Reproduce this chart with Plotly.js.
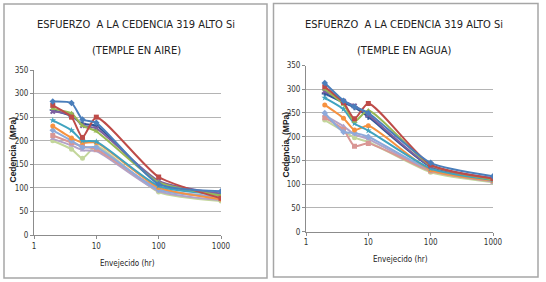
<!DOCTYPE html>
<html>
<head>
<meta charset="utf-8">
<script src="https://cdn.plot.ly/plotly-3.0.1.min.js"></script>
<style>
  html, body { margin: 0; padding: 0; background: #ffffff; }
  #chart { width: 546px; height: 282px; }
</style>
</head>
<body>
<div id="chart"></div>
<script>
// ---- Data ----
const hours = [2, 4, 6, 10, 100, 1000];
const xTickVals = [1, 10, 100, 1000];
const xTickText = ["1", "10", "100", "1000"];

const titleAire = ["ESFUERZO  A LA CEDENCIA 319 ALTO Si", "(TEMPLE EN AIRE)"];
const titleAgua = ["ESFUERZO  A LA CEDENCIA 319 ALTO Si", "(TEMPLE EN AGUA)"];
const xAxisTitle = "Envejecido (hr)";
const yAxisTitle = "Cedencia  (MPa)";

const seriesNames = ["Serie 1", "Serie 2", "Serie 3", "Serie 4", "Serie 5", "Serie 6",
                     "Serie 7", "Serie 8", "Serie 9", "Serie 10", "Serie 11"];

// Temple en aire (MPa)
const aire1  = [283, 280, 245, 238, 108, 93];
const aire2  = [275, 250, 207, 250, 123, 78];
const aire3  = [268, 258, 232, 220, 112, 84];
const aire4  = [262, 255, 232, 226, 115, 88];
const aire5  = [243, 222, 200, 198, 104, 86];
const aire6  = [231, 206, 196, 196, 101, 76];
const aire7  = [265, 252, 236, 232, 110, 86];
const aire8  = [222, 200, 186, 186, 96, 82];
const aire9  = [211, 196, 188, 182, 98, 80];
const aire10 = [204, 190, 180, 178, 93, 74];
const aire11 = [200, 182, 163, 188, 91, 72];

// Temple en agua (MPa)
const agua1  = [313, 276, 263, 250, 145, 117];
const agua2  = [305, 272, 238, 270, 141, 112];
const agua3  = [300, 268, 232, 255, 140, 110];
const agua4  = [296, 275, 265, 246, 138, 113];
const agua5  = [282, 258, 228, 213, 133, 109];
const agua6  = [267, 239, 214, 223, 130, 108];
const agua7  = [291, 272, 262, 242, 137, 111];
const agua8  = [250, 210, 208, 200, 130, 107];
const agua9  = [240, 215, 180, 186, 128, 106];
const agua10 = [245, 222, 205, 195, 129, 106];
const agua11 = [235, 212, 198, 189, 125, 104];

const aireSeries = [aire1, aire2, aire3, aire4, aire5, aire6, aire7, aire8, aire9, aire10, aire11];
const aguaSeries = [agua1, agua2, agua3, agua4, agua5, agua6, agua7, agua8, agua9, agua10, agua11];

// ---- Styles ----
const colors = ["#4a7ebb", "#be4b48", "#98b954", "#7d60a0", "#3fa3bf", "#f69240",
                "#2f5597", "#8eaadb", "#d99694", "#b3a2c7", "#c3d69b"];
const symbols = ["diamond", "square", "triangle-up", "x", "star", "circle",
                 "cross", "diamond", "square", "triangle-up", "circle"];

const W = 546, H = 282;
const fx = px => px / W;
const fy = py => 1 - py / H;

// Draw the lighter series first so the darker ones sit on top, as in the picture
const drawOrder = [10, 9, 8, 7, 6, 5, 4, 3, 2, 1, 0];

const traces = [];
function addSeries(list, xa, ya) {
  drawOrder.forEach(i => {
    traces.push({
      type: "scatter",
      mode: "lines+markers",
      x: hours,
      y: list[i],
      name: seriesNames[i],
      xaxis: xa, yaxis: ya,
      line: { color: colors[i], width: 2, shape: "spline", smoothing: 0.6 },
      marker: { color: colors[i], size: 5, symbol: symbols[i] },
      showlegend: false,
      hoverinfo: "x+y"
    });
  });
}
addSeries(aireSeries, "x", "y");
addSeries(aguaSeries, "x2", "y2");

const tickFont = { family: "Liberation Sans Narrow, DejaVu Sans Condensed, sans-serif", size: 8, color: "#333" };

function xAxis(domain, anchor) {
  return {
    type: "log", range: [0, 3], domain: domain, anchor: anchor,
    tickvals: xTickVals, ticktext: xTickText,
    ticks: "outside", ticklen: 3, tickcolor: "#8c8c8c",
    showline: true, linecolor: "#8c8c8c", linewidth: 1,
    showgrid: false, zeroline: false,
    tickfont: tickFont, fixedrange: true
  };
}
function yAxis(domain, anchor) {
  return {
    range: [0, 350], domain: domain, anchor: anchor,
    tick0: 0, dtick: 50,
    ticks: "outside", ticklen: 3, tickcolor: "#8c8c8c",
    showline: true, linecolor: "#8c8c8c", linewidth: 1,
    showgrid: true, gridcolor: "#b4b4b4", gridwidth: 1,
    zeroline: false, tickfont: tickFont, fixedrange: true
  };
}

const titleFont = { family: "Liberation Sans Narrow, DejaVu Sans Condensed, sans-serif", size: 11, color: "#222" };
const axTitleFont = { family: "Liberation Sans Narrow, DejaVu Sans Condensed, sans-serif", size: 8, color: "#222" };
const yTitleFont = { family: "Liberation Sans, Arial, sans-serif", size: 8.5, color: "#222" };

function ann(text, px, py, font, extra) {
  return Object.assign({
    text: text, x: fx(px), y: fy(py), xref: "paper", yref: "paper",
    xanchor: "center", yanchor: "middle", showarrow: false, font: font
  }, extra || {});
}

const layout = {
  width: W, height: H,
  margin: { l: 0, r: 0, t: 0, b: 0, pad: 0 },
  paper_bgcolor: "#ffffff", plot_bgcolor: "rgba(0,0,0,0)",
  showlegend: false,
  xaxis: xAxis([fx(34), fx(221)], "y"),
  yaxis: yAxis([fy(235), fy(70)], "x"),
  xaxis2: xAxis([fx(306), fx(493)], "y2"),
  yaxis2: yAxis([fy(231.7), fy(65.5)], "x2"),
  shapes: [
    { type: "rect", xref: "paper", yref: "paper", x0: fx(4), x1: fx(267), y0: fy(278), y1: fy(4),
      line: { color: "#a6a6a6", width: 1.5 }, fillcolor: "rgba(0,0,0,0)", layer: "below" },
    { type: "rect", xref: "paper", yref: "paper", x0: fx(273.5), x1: fx(538), y0: fy(277), y1: fy(3.5),
      line: { color: "#a6a6a6", width: 1.5 }, fillcolor: "rgba(0,0,0,0)", layer: "below" }
  ],
  annotations: [
    ann(titleAire[0], 136, 24, titleFont),
    ann(titleAire[1], 136, 50, titleFont),
    ann(titleAgua[0], 404, 24, titleFont),
    ann(titleAgua[1], 404, 50, titleFont),
    ann(xAxisTitle, 127, 263, axTitleFont),
    ann(xAxisTitle, 400, 259, axTitleFont),
    ann("<b>" + yAxisTitle + "</b>", 12.5, 150, yTitleFont, { textangle: -90 }),
    ann("<b>" + yAxisTitle + "</b>", 285.5, 145, yTitleFont, { textangle: -90 })
  ]
};

Plotly.newPlot("chart", traces, layout, { staticPlot: true, displayModeBar: false });
</script>
</body>
</html>
